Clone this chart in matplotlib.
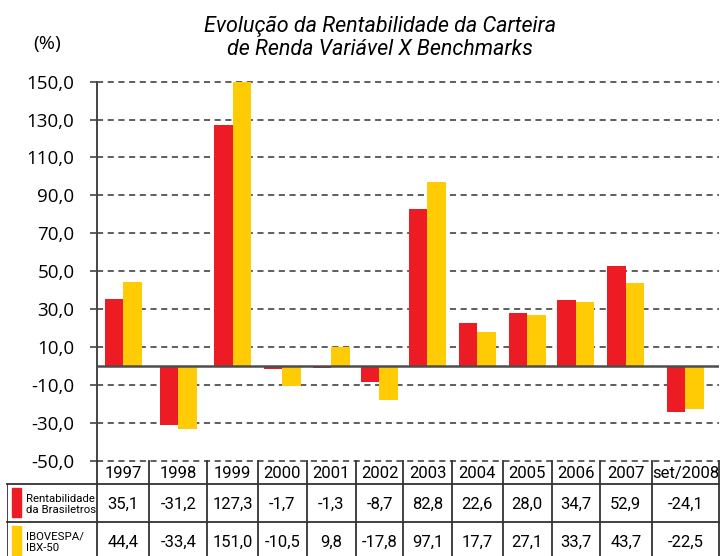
import matplotlib
matplotlib.use("Agg")
import matplotlib.pyplot as plt
import numpy as np
from matplotlib.patches import Rectangle

years = ["1997", "1998", "1999", "2000", "2001", "2002", "2003", "2004",
         "2005", "2006", "2007", "set/2008"]
brasiletros = [35.1, -31.2, 127.3, -1.7, -1.3, -8.7, 82.8, 22.6, 28.0, 34.7, 52.9, -24.1]
ibovespa = [44.4, -33.4, 151.0, -10.5, 9.8, -17.8, 97.1, 17.7, 27.1, 33.7, 43.7, -22.5]
series_labels = ["Rentabilidade\nda Brasiletros", "IBOVESPA/\nIBX-50"]
yticks = [-50, -30, -10, 10, 30, 50, 70, 90, 110, 130, 150]

# table column widths (px) - the chart categories follow the table columns
col_widths = [52.6, 58, 50.7, 48.7, 49, 47.6, 48.4, 51.3, 48.7, 48.3, 51.7, 67.3]

RED = "#ED1C24"
YELLOW = "#FFCB05"
LINE = "#333333"
FONT = ["Roboto", "DejaVu Sans"]

W, H = 721, 556
fig = plt.figure(figsize=(W / 100, H / 100), dpi=100)

x0 = 96.7
total = sum(col_widths)
x1 = x0 + total
y_top, y_bot = 81.7, 460.7
ax = fig.add_axes([x0 / W, 1 - y_bot / H, total / W, (y_bot - y_top) / H])

edges = np.concatenate([[0], np.cumsum(col_widths)])
centers = (edges[:-1] + edges[1:]) / 2
bw = 18.5
ax.bar(centers - bw / 2, brasiletros, bw, color=RED, zorder=3)
ax.bar(centers + bw / 2, ibovespa, bw, color=YELLOW, zorder=3)

ax.set_xlim(0, total)
ax.set_ylim(-50, 150)
for t in yticks:
    ax.axhline(t, color=LINE, lw=1.1, dashes=(4, 3), zorder=1, clip_on=False)
ax.axhline(0, color="#4d4d4d", lw=1.8, zorder=4)

for s in ["top", "right", "bottom"]:
    ax.spines[s].set_visible(False)
ax.spines["left"].set_color("#444444")
ax.spines["left"].set_linewidth(1.4)
ax.set_xticks([])
ax.set_yticks(yticks)
ax.set_yticklabels([f"{t:.1f}".replace(".", ",") for t in yticks],
                   fontsize=13.5, family=["Open Sans", "DejaVu Sans"])
ax.tick_params(axis="y", length=5, width=1.2, color="#444444", pad=11)

# title and unit
fig.text(380 / W, 1 - 38 / H, "Evolução da Rentabilidade da Carteira\nde Renda Variável X Benchmarks",
         ha="center", va="center", fontsize=15.5, style="italic", family=FONT,
         linespacing=1.15)
fig.text(47 / W, 1 - 44 / H, "(%)", ha="center", va="center", fontsize=14,
         family=["Open Sans", "DejaVu Sans"])

# data table under the chart
lab_left = 7.3
tax = fig.add_axes([lab_left / W, 0, (x1 - lab_left) / W, (H - y_bot) / H])
left_lim = -(x0 - lab_left)
tax.set_xlim(left_lim, total)
tax.set_ylim(H - y_bot, 0)
tax.axis("off")

row_edges = [0, 23.5, 61.5, 99.5]
for e in edges:
    tax.plot([e, e], [0, row_edges[-1]], color=LINE, lw=1.3, clip_on=False)
tax.plot([left_lim, left_lim], [row_edges[1], row_edges[-1]], color=LINE, lw=1.3)
for yy in row_edges[1:3]:
    tax.plot([left_lim, total], [yy, yy], color=LINE, lw=1.3, clip_on=False)

for c, yr in zip(centers, years):
    tax.text(c, (row_edges[0] + row_edges[1]) / 2 + 1, yr, ha="center", va="center",
             fontsize=12, family=FONT)
for r, vals in enumerate([brasiletros, ibovespa]):
    yc = (row_edges[r + 1] + row_edges[r + 2]) / 2 + 1
    for c, v in zip(centers, vals):
        tax.text(c, yc, f"{v:.1f}".replace(".", ","), ha="center", va="center",
                 fontsize=12, family=FONT)

for r, (lab, col) in enumerate(zip(series_labels, [RED, YELLOW])):
    top = row_edges[r + 1]
    tax.add_patch(Rectangle((left_lim + 5, top + 4), 8.5, 29, color=col, clip_on=False))
    tax.text(left_lim + 18.5, (top + row_edges[r + 2]) / 2 + 1, lab,
             ha="left", va="center", fontsize=8.2, family=FONT, linespacing=1.1)

fig.savefig("out.png", dpi=100)
